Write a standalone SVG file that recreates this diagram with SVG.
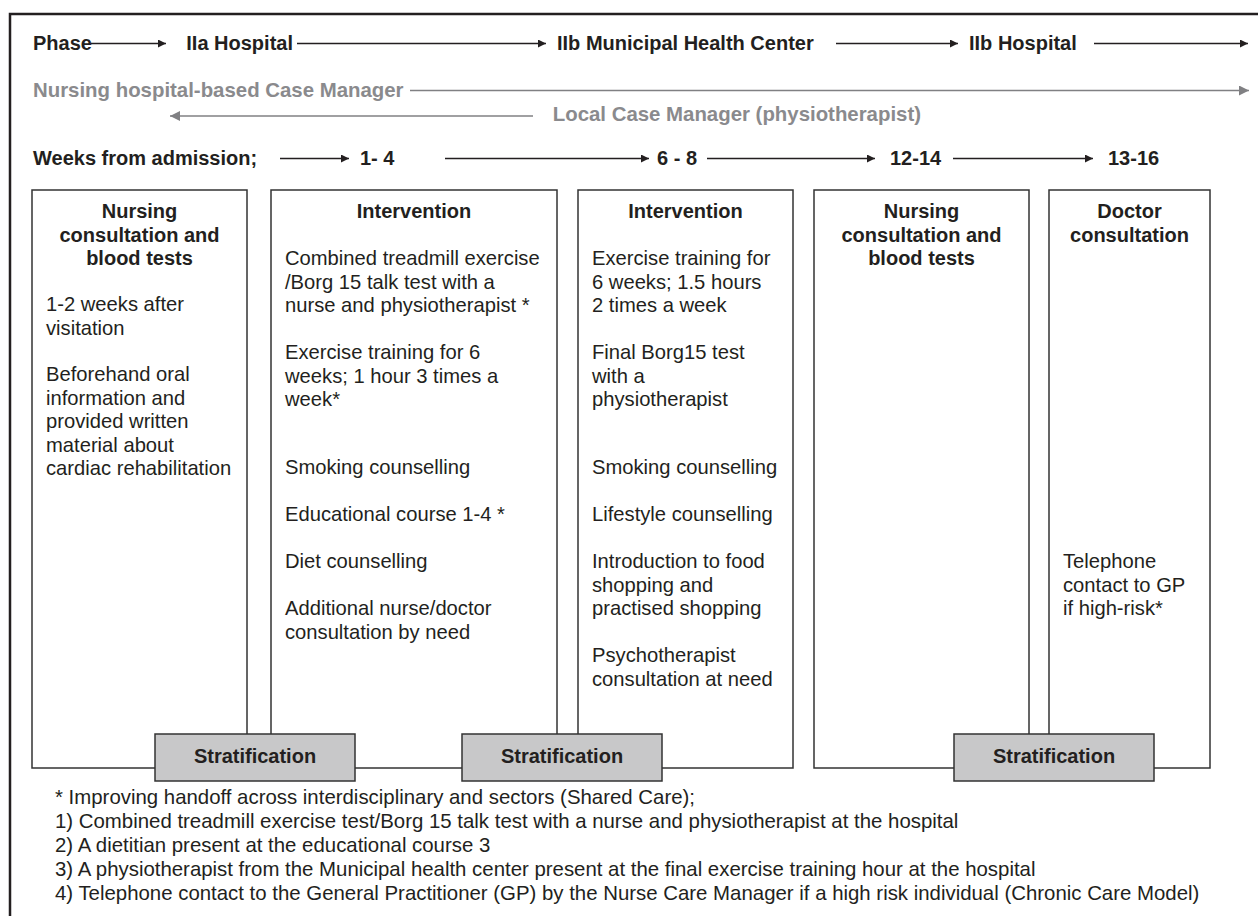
<svg xmlns="http://www.w3.org/2000/svg" width="1258" height="916" viewBox="0 0 1258 916">
<defs>
<marker id="ah" viewBox="0 0 10 10" refX="10" refY="5" markerWidth="10" markerHeight="8" markerUnits="userSpaceOnUse" orient="auto"><path d="M0,0 L10,5 L0,10 z" fill="#231f20"/></marker>
<marker id="ahg" viewBox="0 0 10 10" refX="10" refY="5" markerWidth="12" markerHeight="10" markerUnits="userSpaceOnUse" orient="auto"><path d="M0,0 L10,5 L0,10 z" fill="#808083"/></marker>
<style>
text{font-family:"Liberation Sans",Arial,sans-serif;fill:#231f20}
.h{font-size:20px;font-weight:bold}
.g{font-size:20.4px;font-weight:bold;fill:#8a8a8d}
.t{font-size:20px;font-weight:bold;text-anchor:middle}
.b{font-size:20.2px}
.f{font-size:20.4px}
.box{fill:#fff;stroke:#333;stroke-width:1.5}
.strat{fill:#c8c8c9;stroke:#333;stroke-width:1.5}
.ar{stroke:#231f20;stroke-width:1.4;fill:none;marker-end:url(#ah)}
.arg{stroke:#808083;stroke-width:1.4;fill:none;marker-end:url(#ahg)}
</style>
</defs>
<rect width="1258" height="916" fill="#fff"/>
<path d="M10,916 V14 H1258" fill="none" stroke="#231f20" stroke-width="2.5"/>

<g id="header">
<text class="h" x="33" y="50">Phase</text>
<text class="h" x="293" y="50" text-anchor="end">IIa Hospital</text>
<text class="h" x="557" y="50">IIb Municipal Health Center</text>
<text class="h" x="969" y="50">IIb Hospital</text>
<text class="g" x="33" y="97">Nursing hospital-based Case Manager</text>
<text class="g" x="921" y="121" text-anchor="end">Local Case Manager (physiotherapist)</text>
<text class="h" x="33" y="165">Weeks from admission;</text>
<text class="h" x="360" y="165">1- 4</text>
<text class="h" x="657" y="165">6 - 8</text>
<text class="h" x="890" y="165">12-14</text>
<text class="h" x="1108" y="165">13-16</text>
</g>

<g id="connectors">
<line class="ar" x1="91" y1="43.5" x2="166" y2="43.5"/>
<line class="ar" x1="297" y1="43.5" x2="546" y2="43.5"/>
<line class="ar" x1="836" y1="43.5" x2="958" y2="43.5"/>
<line class="ar" x1="1094" y1="43.5" x2="1248" y2="43.5"/>
<line class="arg" x1="410" y1="90.5" x2="1249" y2="90.5"/>
<line class="arg" x1="533" y1="116" x2="170" y2="116"/>
<line class="ar" x1="280" y1="158.5" x2="349" y2="158.5"/>
<line class="ar" x1="445" y1="158.5" x2="649" y2="158.5"/>
<line class="ar" x1="707" y1="158.5" x2="875" y2="158.5"/>
<line class="ar" x1="953" y1="158.5" x2="1093" y2="158.5"/>
</g>

<g id="box1">
<rect class="box" x="32" y="190" width="215" height="578"/>
<text class="t" x="139.5" y="218">Nursing</text>
<text class="t" x="139.5" y="241.5">consultation and</text>
<text class="t" x="139.5" y="265">blood tests</text>
<text class="b" x="46" y="311">1-2 weeks after</text>
<text class="b" x="46" y="334.5">visitation</text>
<text class="b" x="46" y="381">Beforehand oral</text>
<text class="b" x="46" y="404.5">information and</text>
<text class="b" x="46" y="428">provided written</text>
<text class="b" x="46" y="451.5">material about</text>
<text class="b" x="46" y="475">cardiac rehabilitation</text>
</g>

<g id="box2">
<rect class="box" x="271" y="190" width="286" height="578"/>
<text class="t" x="414" y="218">Intervention</text>
<text class="b" x="285" y="265">Combined treadmill exercise</text>
<text class="b" x="285" y="288.5">/Borg 15 talk test with a</text>
<text class="b" x="285" y="312">nurse and physiotherapist *</text>
<text class="b" x="285" y="359">Exercise training for 6</text>
<text class="b" x="285" y="382.5">weeks; 1 hour 3 times a</text>
<text class="b" x="285" y="406">week*</text>
<text class="b" x="285" y="474">Smoking counselling</text>
<text class="b" x="285" y="521">Educational course 1-4 *</text>
<text class="b" x="285" y="568">Diet counselling</text>
<text class="b" x="285" y="615">Additional nurse/doctor</text>
<text class="b" x="285" y="638.5">consultation by need</text>
</g>

<g id="box3">
<rect class="box" x="578" y="190" width="215" height="578"/>
<text class="t" x="685.5" y="218">Intervention</text>
<text class="b" x="592" y="265">Exercise training for</text>
<text class="b" x="592" y="288.5">6 weeks; 1.5 hours</text>
<text class="b" x="592" y="312">2 times a week</text>
<text class="b" x="592" y="359">Final Borg15 test</text>
<text class="b" x="592" y="382.5">with a</text>
<text class="b" x="592" y="406">physiotherapist</text>
<text class="b" x="592" y="474">Smoking counselling</text>
<text class="b" x="592" y="521">Lifestyle counselling</text>
<text class="b" x="592" y="568">Introduction to food</text>
<text class="b" x="592" y="591.5">shopping and</text>
<text class="b" x="592" y="615">practised shopping</text>
<text class="b" x="592" y="662">Psychotherapist</text>
<text class="b" x="592" y="685.5">consultation at need</text>
</g>

<g id="box4">
<rect class="box" x="814" y="190" width="215" height="578"/>
<text class="t" x="921.5" y="218">Nursing</text>
<text class="t" x="921.5" y="241.5">consultation and</text>
<text class="t" x="921.5" y="265">blood tests</text>
</g>

<g id="box5">
<rect class="box" x="1049" y="190" width="161" height="578"/>
<text class="t" x="1129.5" y="218">Doctor</text>
<text class="t" x="1129.5" y="241.5">consultation</text>
<text class="b" x="1063" y="568">Telephone</text>
<text class="b" x="1063" y="591.5">contact to GP</text>
<text class="b" x="1063" y="615">if high-risk*</text>
</g>

<g id="strat1">
<rect class="strat" x="155" y="734" width="200" height="47"/>
<text class="t" x="255" y="763">Stratification</text>
</g>
<g id="strat2">
<rect class="strat" x="462" y="734" width="200" height="47"/>
<text class="t" x="562" y="763">Stratification</text>
</g>
<g id="strat3">
<rect class="strat" x="954" y="734" width="200" height="47"/>
<text class="t" x="1054" y="763">Stratification</text>
</g>

<g id="footnotes">
<text class="f" x="55" y="804">* Improving handoff across interdisciplinary and sectors (Shared Care);</text>
<text class="f" x="55" y="828">1) Combined treadmill exercise test/Borg 15 talk test with a nurse and physiotherapist at the hospital</text>
<text class="f" x="55" y="852">2) A dietitian present at the educational course 3</text>
<text class="f" x="55" y="876">3) A physiotherapist from the Municipal health center present at the final exercise training hour at the hospital</text>
<text class="f" x="55" y="900">4) Telephone contact to the General Practitioner (GP) by the Nurse Care Manager if a high risk individual (Chronic Care Model)</text>
</g>
</svg>
